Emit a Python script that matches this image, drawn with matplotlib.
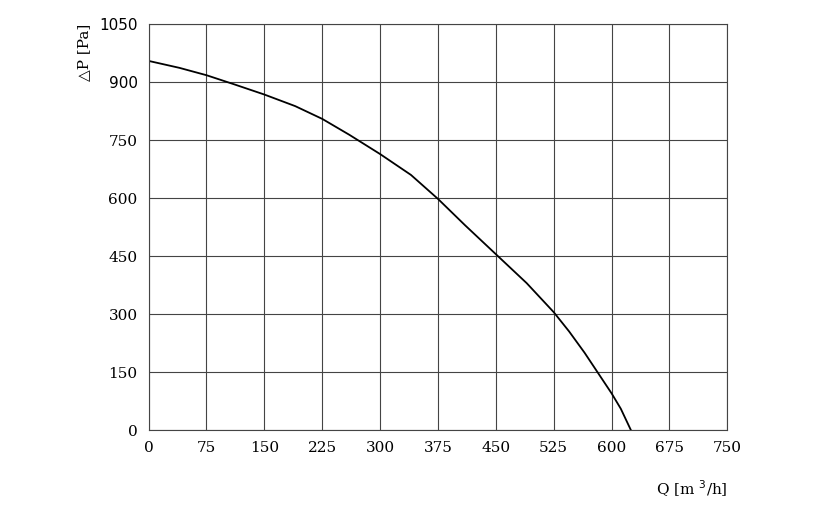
import matplotlib
matplotlib.use("Agg")
import matplotlib.pyplot as plt

q = [0, 40, 75, 110, 150, 190, 225, 260, 300, 340, 375, 410, 450, 490, 525, 545, 565, 585, 600, 612, 625]
dp = [955, 937, 918, 895, 868, 838, 805, 764, 714, 660, 598, 530, 455, 380, 305, 255, 200, 140, 95, 55, 0]
xticks = [0, 75, 150, 225, 300, 375, 450, 525, 600, 675, 750]
yticks = [0, 150, 300, 450, 600, 750, 900, 1050]

fig = plt.figure(figsize=(8.35, 5.26), dpi=100)
ax = fig.add_axes([0.178, 0.1825, 0.693, 0.7715])
ax.plot(q, dp, color="black", lw=1.3, solid_joinstyle="round")
ax.set_xlim(0, 750)
ax.set_ylim(0, 1050)
ax.set_xticks(xticks)
ax.set_yticks(yticks)
ax.grid(True, color="#444444", lw=0.8)
ax.tick_params(length=0, labelsize=11, pad=8)
for lab in ax.get_xticklabels() + ax.get_yticklabels():
    lab.set_family("DejaVu Serif")
for lab in ax.get_yticklabels():
    if lab.get_text() in ("900", "1050"):
        lab.set_family("DejaVu Sans")
for s in ax.spines.values():
    s.set_color("#444444")
    s.set_linewidth(0.8)
ax.set_ylabel("△P [Pa]", family="DejaVu Serif", fontsize=11, labelpad=6)
ax.yaxis.set_label_coords(-0.1, 0.93)
ax.text(1.0, -0.12, "Q [m $^3$/h]", transform=ax.transAxes, ha="right", va="top",
        family="DejaVu Serif", fontsize=11)
fig.savefig("out.png", dpi=100)
